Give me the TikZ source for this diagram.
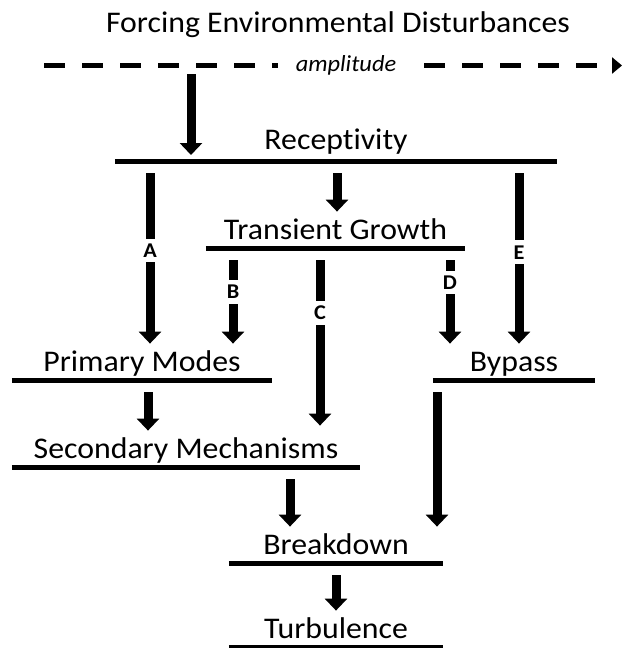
\documentclass[tikz,border=0pt]{standalone}
\usepackage{fontspec}
\setmainfont{Carlito}[FakeStretch=1.06, Ligatures=NoCommon]
\usepackage{tikz}
\usetikzlibrary{positioning, calc, arrows.meta}

\newcommand{\lvlfont}{\fontsize{30}{30}\selectfont}

\tikzset{
    level/.style={
        font=\lvlfont,
        inner xsep=0pt,
        inner ysep=8pt,
        text height=20pt,
        text depth=0pt,
        anchor=south
    },
    bar/.style={line width=5pt},
    flow/.style={
        line width=9pt,
        shorten <=12pt,
        -{Triangle[width=22pt, length=12pt]}
    },
    lab/.style={
        fill=white,
        font=\bfseries\fontsize{21}{21}\selectfont,
        inner xsep=5pt,
        inner ysep=5pt
    }
}

\begin{document}
\begin{tikzpicture}[x=1pt, y=-1pt]
    \useasboundingbox (0,0) rectangle (622,648);

    \node[font=\lvlfont, anchor=base] (title) at (338,32) {Forcing Environmental Disturbances};

    \coordinate (dl) at (44,65.5);
    \coordinate (dr) at (622,65.5);
    \draw[
        line width=5pt,
        dash pattern=on 21pt off 17pt,
        -{Triangle[width=16pt, length=10pt]}
    ] (dl) -- (dr);
    \node[fill=white, inner xsep=18pt, inner ysep=2pt, font=\itshape\fontsize{23}{23}\selectfont] (amp) at (346,65.5) {amplitude};

    \node[level, minimum width=442pt, inner ysep=11pt] (rec) at (336,161) {Receptivity};
    \node[level, minimum width=259pt] (tg) at (335.5,248) {Transient Growth};
    \node[level, minimum width=260pt] (pm) at (142,380) {Primary Modes};
    \node[level, minimum width=162pt] (byp) at (514,380) {Bypass};
    \node[level, minimum width=348pt] (sm) at (186,467) {Secondary Mechanisms};
    \node[level, minimum width=214pt] (bd) at (336,563) {Breakdown};
    \node[level, minimum width=214pt] (turb) at (336,647) {Turbulence};

    \foreach \n in {rec, tg, pm, byp, sm, bd, turb}
        \draw[bar] (\n.south west) -- (\n.south east);

    % arrow columns
    \coordinate (xF) at (191,0);
    \coordinate (xA) at (150,0);
    \coordinate (xT) at (337,0);
    \coordinate (xE) at (519,0);
    \coordinate (xB) at (233,0);
    \coordinate (xC) at (320,0);
    \coordinate (xD) at (450,0);
    \coordinate (xP) at (148,0);
    \coordinate (xY) at (437,0);
    \coordinate (xS) at (290,0);
    \coordinate (xR) at (336,0);

    \draw[flow, shorten <=8.5pt, shorten >=6pt] (dl -| xF) -- (rec.south -| xF);

    \draw[flow] (rec.south -| xA) -- (pm.north -| xA) node[lab, pos=0.49] {A};
    \draw[flow] (rec.south -| xT) -- (tg.north -| xT);
    \draw[flow] (rec.south -| xE) -- (byp.north -| xE) node[lab, pos=0.5] {E};

    \draw[flow] (tg.south -| xB) -- (pm.north -| xB) node[lab, pos=0.46] {B};
    \draw[flow, shorten >=5pt] (tg.south -| xC) -- (sm.north -| xC) node[lab, pos=0.355] {C};
    \draw[flow] (tg.south -| xD) -- (byp.north -| xD) node[lab, pos=0.36] {D};

    \draw[flow] (pm.south -| xP) -- (sm.north -| xP);
    \draw[flow] (byp.south -| xY) -- (bd.north -| xY);
    \draw[flow] (sm.south -| xS) -- (bd.north -| xS);
    \draw[flow] (bd.south -| xR) -- (turb.north -| xR);
\end{tikzpicture}
\end{document}
